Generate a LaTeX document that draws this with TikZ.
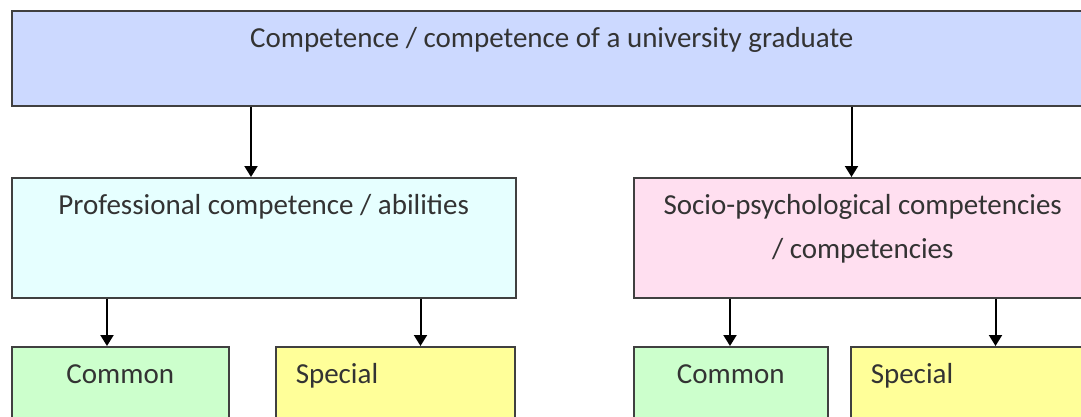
\documentclass[tikz,border=0pt]{standalone}
\usepackage{fontspec}
\setmainfont{Carlito}
\usepackage{xcolor}
\usepackage{tikz}
\usetikzlibrary{arrows.meta, positioning}
\definecolor{graduatefill}{HTML}{CCD9FF}
\definecolor{proffill}{HTML}{E6FFFF}
\definecolor{sociofill}{HTML}{FFDFF0}
\definecolor{commonfill}{HTML}{CCFFCC}
\definecolor{specialfill}{HTML}{FFFF99}
\definecolor{boxgray}{HTML}{404040}
\definecolor{textgray}{HTML}{333333}
\tikzstyle{box} = [rectangle, draw=boxgray, line width=1.5pt, anchor=north west, inner sep=0pt, text height=37pt, text=textgray, font=\fontsize{29}{44}\selectfont]
\tikzstyle{leftbox} = [box, align=left, inner xsep=20pt]
\tikzstyle{arrow} = [line width=2pt, -{Triangle[width=13pt,length=11pt]}]

\begin{document}
\begin{tikzpicture}[x=1pt, y=-1pt]
		\useasboundingbox (0,0) rectangle (1081,416);
		\fill[white] (0,0) rectangle (1081,416);
		\node[box, fill=graduatefill, minimum width=1080pt, text depth=58pt] (graduate) at (11,10) {Competence / competence of a university graduate};
		\node[box, fill=proffill, minimum width=504pt, text depth=83pt] (professional) at (11,177) {Professional competence / abilities};
		\node[box, fill=sociofill, minimum width=458pt, text height=81pt, text depth=39pt, align=center] (social) at (633,177) {Socio-psychological competencies\\/ competencies};

		\node[box, fill=commonfill, minimum width=217pt, text depth=80pt] (commonprof) at (11,346) {Common};
		\node[leftbox, fill=specialfill, text width=199pt, text depth=80pt] (specialprof) at (275,346) {Special};
		\node[box, fill=commonfill, minimum width=194pt, text depth=80pt] (commonsocio) at (633,346) {Common};
		\node[leftbox, fill=specialfill, text width=210pt, text depth=80pt] (specialsocio) at (850,346) {Special};

		\draw[arrow] ([xshift=240pt]graduate.south west) -- ([xshift=240pt]graduate.south west |- professional.north);
		\draw[arrow] ([xshift=-241pt]graduate.south east) -- ([xshift=-241pt]graduate.south east |- social.north);
		\draw[arrow] ([xshift=96pt]professional.south west) -- ([xshift=96pt]professional.south west |- commonprof.north);
		\draw[arrow] ([xshift=-96pt]professional.south east) -- ([xshift=-96pt]professional.south east |- specialprof.north);
		\draw[arrow] ([xshift=97pt]social.south west) -- ([xshift=97pt]social.south west |- commonsocio.north);
		\draw[arrow] ([xshift=-97pt]social.south east) -- ([xshift=-97pt]social.south east |- specialsocio.north);
	\end{tikzpicture}
\end{document}
